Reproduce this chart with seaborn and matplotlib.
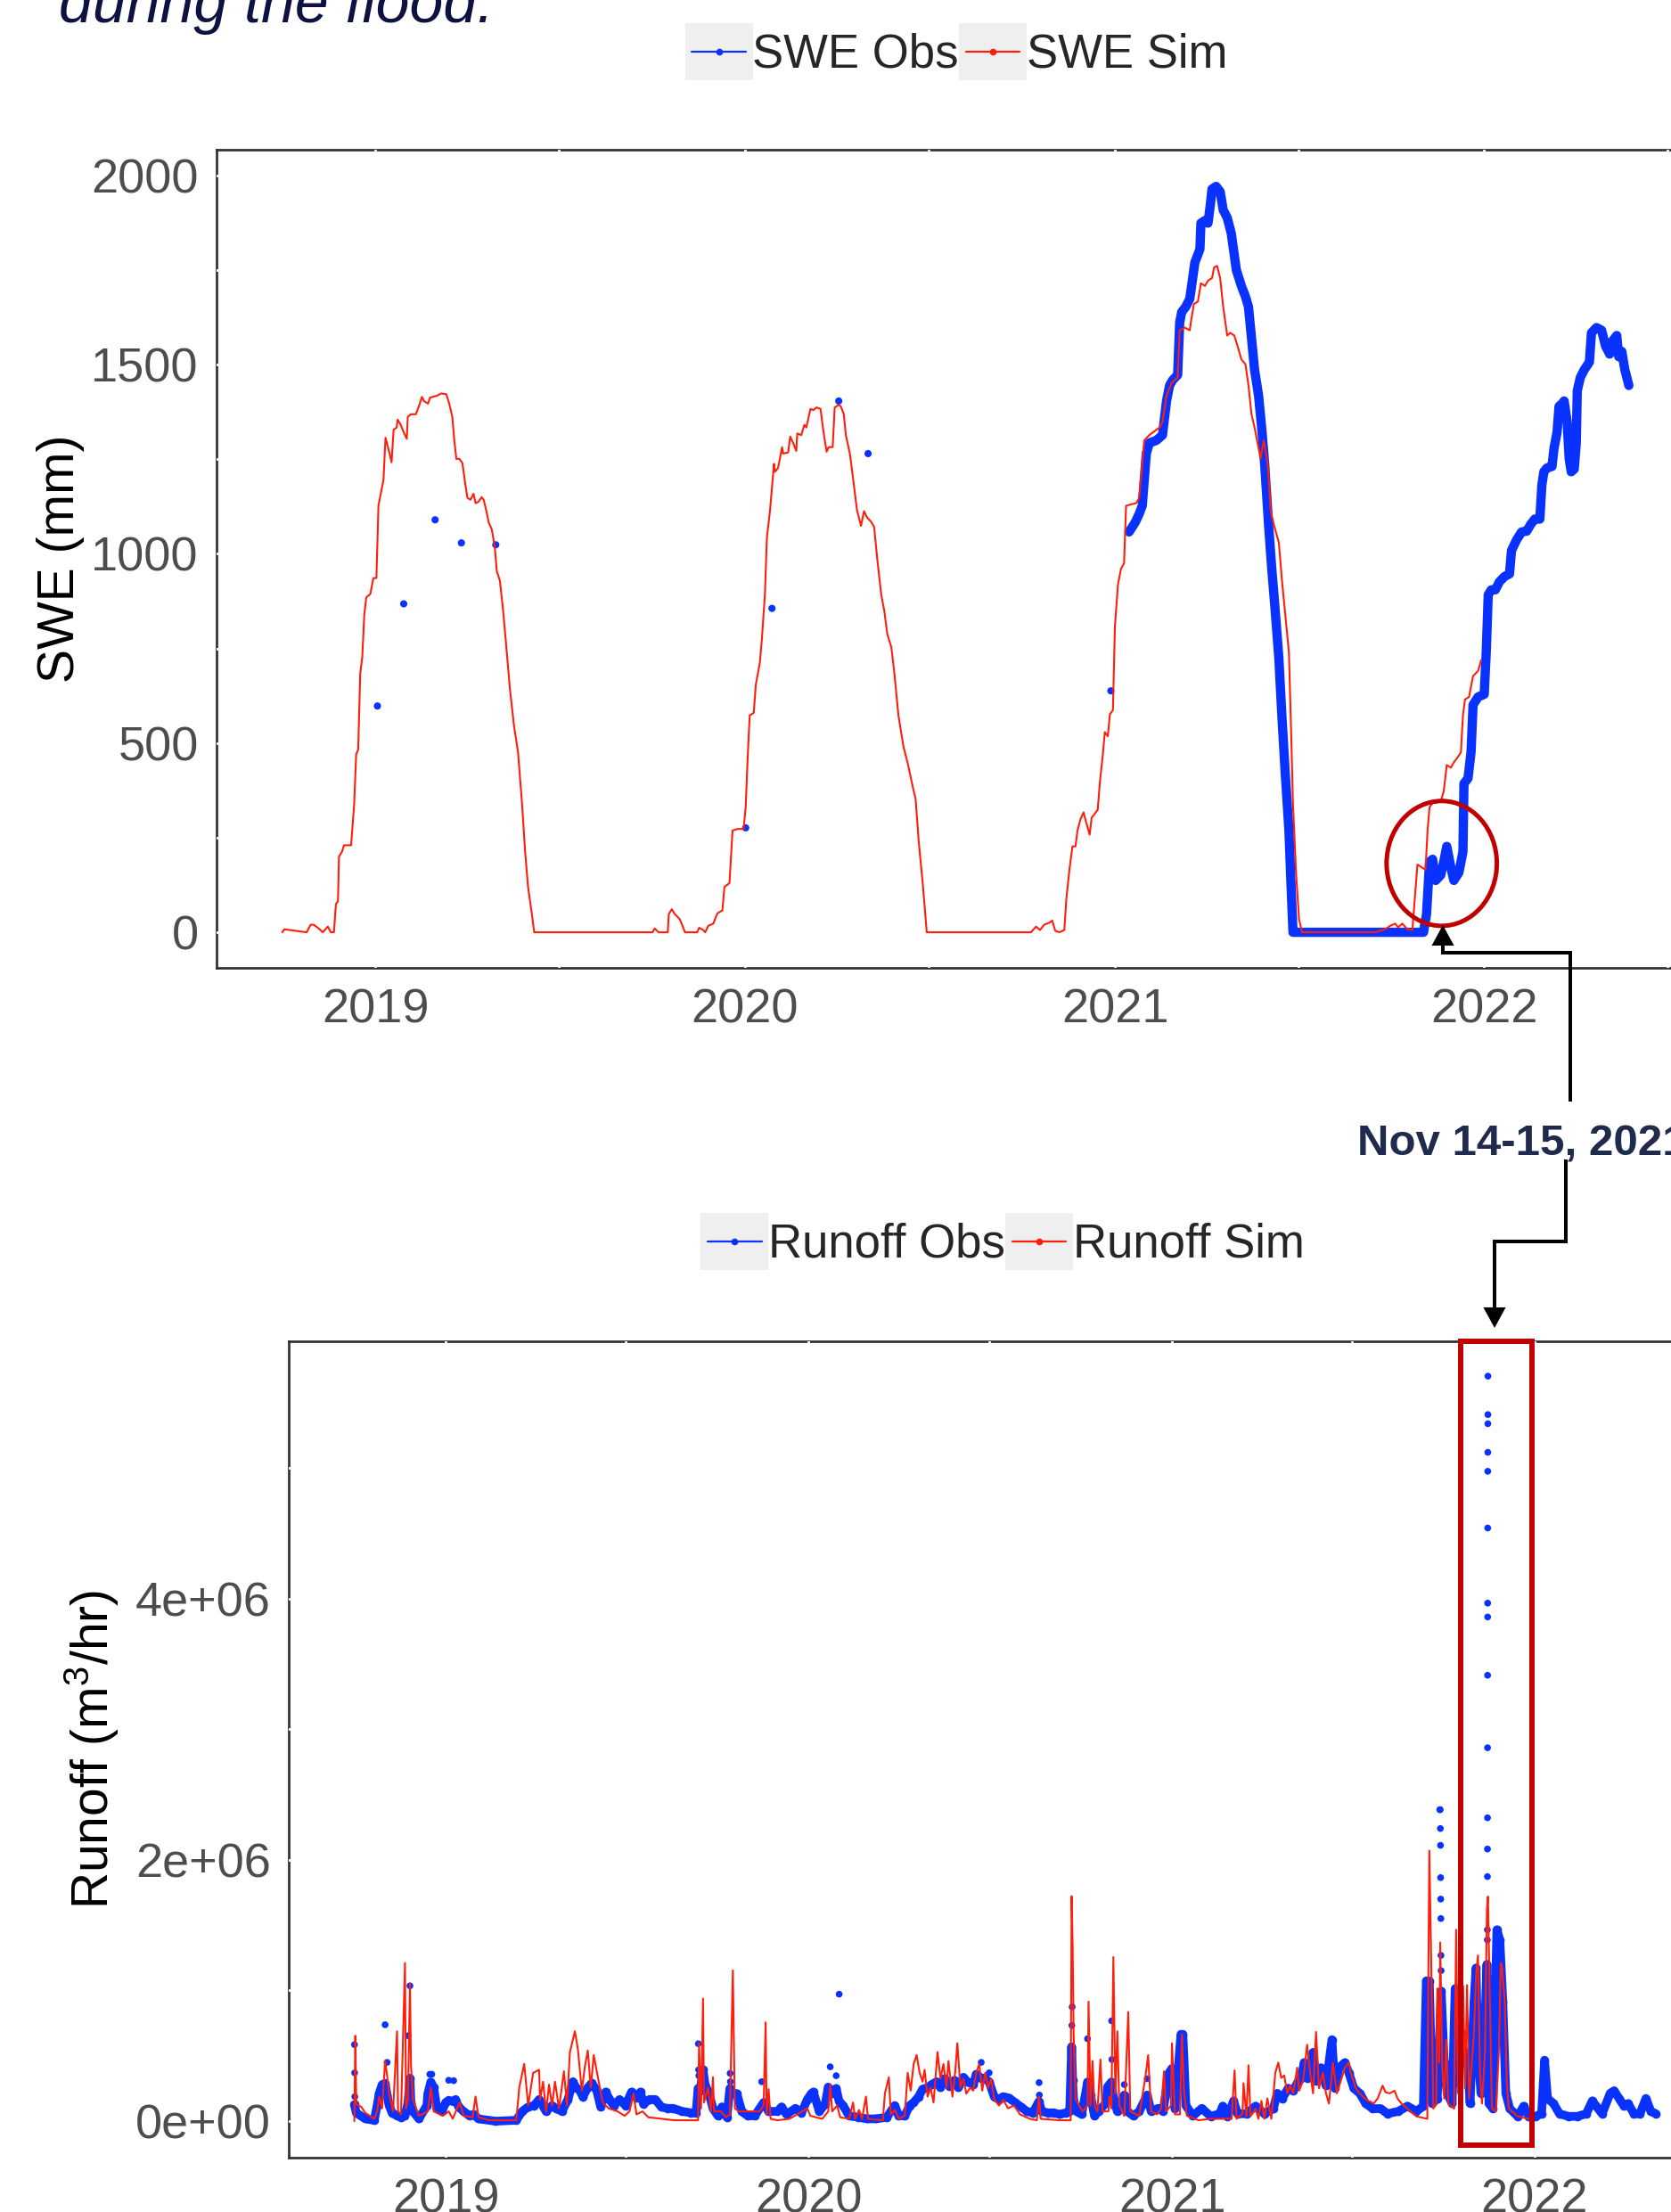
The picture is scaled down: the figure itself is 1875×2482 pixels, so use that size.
import numpy as np
import pandas as pd
import seaborn as sns
import matplotlib.pyplot as plt
import matplotlib.dates as mdates
import matplotlib.transforms as mtransforms
from matplotlib.ticker import MultipleLocator, FixedLocator, FuncFormatter
from matplotlib.patches import Ellipse, Rectangle, FancyArrowPatch
from matplotlib.lines import Line2D
from matplotlib.legend_handler import HandlerBase
from matplotlib.path import Path

# ---- SWE (mm) ----
swe_sim = [
    ("2018-10-01", 0), ("2018-10-03", 8), ("2018-10-25", 0), ("2018-10-29", 20), ("2018-11-01", 20),
    ("2018-11-06", 10), ("2018-11-10", 0), ("2018-11-15", 15), ("2018-11-18", 0), ("2018-11-21", 0),
    ("2018-11-23", 75), ("2018-11-25", 82), ("2018-11-26", 200), ("2018-11-29", 213), ("2018-12-01", 230),
    ("2018-12-08", 230), ("2018-12-11", 338), ("2018-12-13", 470), ("2018-12-15", 483), ("2018-12-17", 684),
    ("2018-12-19", 726), ("2018-12-21", 839), ("2018-12-23", 885), ("2018-12-27", 894), ("2018-12-30", 936),
    ("2019-01-02", 936), ("2019-01-04", 1127), ("2019-01-06", 1155), ("2019-01-09", 1196), ("2019-01-11", 1307),
    ("2019-01-14", 1276), ("2019-01-17", 1242), ("2019-01-19", 1328), ("2019-01-22", 1334), ("2019-01-23", 1355),
    ("2019-01-26", 1341), ("2019-01-29", 1321), ("2019-02-01", 1304), ("2019-02-02", 1362), ("2019-02-05", 1369),
    ("2019-02-10", 1369), ("2019-02-13", 1390), ("2019-02-16", 1415), ("2019-02-18", 1404), ("2019-02-22", 1397),
    ("2019-02-24", 1413), ("2019-03-03", 1418), ("2019-03-07", 1424), ("2019-03-12", 1422), ("2019-03-15", 1397),
    ("2019-03-18", 1362), ("2019-03-20", 1300), ("2019-03-22", 1251), ("2019-03-25", 1251), ("2019-03-28", 1240),
    ("2019-03-31", 1182), ("2019-04-02", 1148), ("2019-04-05", 1143), ("2019-04-08", 1159), ("2019-04-10", 1134),
    ("2019-04-13", 1138), ("2019-04-16", 1150), ("2019-04-18", 1143), ("2019-04-21", 1110), ("2019-04-23", 1083),
    ("2019-04-26", 1065), ("2019-04-29", 1019), ("2019-05-01", 954), ("2019-05-04", 930), ("2019-05-07", 857),
    ("2019-05-10", 767), ("2019-05-14", 642), ("2019-05-18", 546), ("2019-05-22", 476), ("2019-05-26", 338),
    ("2019-05-29", 213), ("2019-06-01", 117), ("2019-06-04", 61), ("2019-06-07", 0), ("2019-10-02", 0),
    ("2019-10-04", 10), ("2019-10-08", 0), ("2019-10-17", 0), ("2019-10-18", 48), ("2019-10-21", 61),
    ("2019-10-24", 48), ("2019-10-27", 40), ("2019-10-29", 34), ("2019-11-03", 0), ("2019-11-15", 0),
    ("2019-11-17", 12), ("2019-11-21", 6), ("2019-11-23", 0), ("2019-11-26", 17), ("2019-12-01", 23),
    ("2019-12-05", 50), ("2019-12-10", 58), ("2019-12-12", 120), ("2019-12-17", 130), ("2019-12-20", 269),
    ("2019-12-25", 273), ("2019-12-31", 273), ("2020-01-02", 331), ("2020-01-04", 463), ("2020-01-06", 573),
    ("2020-01-10", 580), ("2020-01-12", 654), ("2020-01-16", 712), ("2020-01-18", 774), ("2020-01-21", 892),
    ("2020-01-23", 1044), ("2020-01-26", 1113), ("2020-01-30", 1238), ("2020-01-31", 1217), ("2020-02-03", 1227),
    ("2020-02-07", 1282), ("2020-02-08", 1265), ("2020-02-13", 1268), ("2020-02-15", 1310), ("2020-02-18", 1293),
    ("2020-02-21", 1272), ("2020-02-22", 1318), ("2020-02-26", 1314), ("2020-02-29", 1341), ("2020-03-02", 1334),
    ("2020-03-06", 1383), ("2020-03-09", 1380), ("2020-03-12", 1387), ("2020-03-16", 1383), ("2020-03-19", 1321),
    ("2020-03-22", 1270), ("2020-03-24", 1282), ("2020-03-28", 1282), ("2020-03-30", 1387), ("2020-04-03", 1394),
    ("2020-04-05", 1390), ("2020-04-08", 1369), ("2020-04-10", 1314), ("2020-04-14", 1265), ("2020-04-17", 1203),
    ("2020-04-21", 1116), ("2020-04-25", 1074), ("2020-04-28", 1113), ("2020-05-01", 1096), ("2020-05-05", 1085),
    ("2020-05-08", 1071), ("2020-05-11", 988), ("2020-05-15", 892), ("2020-05-18", 850), ("2020-05-21", 788),
    ("2020-05-25", 753), ("2020-05-28", 684), ("2020-06-01", 573), ("2020-06-06", 490), ("2020-06-10", 449),
    ("2020-06-15", 386), ("2020-06-18", 352), ("2020-06-21", 241), ("2020-06-25", 130), ("2020-06-29", 0),
    ("2020-10-10", 0), ("2020-10-15", 15), ("2020-10-19", 6), ("2020-10-23", 20), ("2020-10-28", 25),
    ("2020-10-31", 31), ("2020-11-03", 4), ("2020-11-07", 0), ("2020-11-12", 6), ("2020-11-14", 89),
    ("2020-11-17", 165), ("2020-11-20", 227), ("2020-11-23", 227), ("2020-11-25", 269), ("2020-11-28", 299),
    ("2020-12-01", 317), ("2020-12-03", 296), ("2020-12-07", 258), ("2020-12-09", 303), ("2020-12-12", 313),
    ("2020-12-15", 324), ("2020-12-17", 393), ("2020-12-20", 469), ("2020-12-22", 529), ("2020-12-25", 518),
    ("2020-12-27", 576), ("2020-12-30", 587), ("2021-01-01", 809), ("2021-01-04", 919), ("2021-01-07", 961),
    ("2021-01-10", 975), ("2021-01-12", 1127), ("2021-01-16", 1130), ("2021-01-22", 1134), ("2021-01-25", 1148),
    ("2021-01-30", 1300), ("2021-02-04", 1314), ("2021-02-14", 1334), ("2021-02-17", 1348), ("2021-02-21", 1418),
    ("2021-02-26", 1452), ("2021-03-04", 1466), ("2021-03-06", 1591), ("2021-03-11", 1598), ("2021-03-16", 1591),
    ("2021-03-17", 1611), ("2021-03-20", 1660), ("2021-03-24", 1667), ("2021-03-27", 1715), ("2021-03-31", 1708),
    ("2021-04-03", 1722), ("2021-04-07", 1729), ("2021-04-09", 1757), ("2021-04-12", 1761), ("2021-04-15", 1729),
    ("2021-04-18", 1653), ("2021-04-22", 1577), ("2021-04-25", 1584), ("2021-04-29", 1577), ("2021-05-03", 1542),
    ("2021-05-06", 1514), ("2021-05-10", 1501), ("2021-05-13", 1445), ("2021-05-16", 1369), ("2021-05-19", 1334),
    ("2021-05-23", 1279), ("2021-05-25", 1252), ("2021-05-28", 1300), ("2021-06-01", 1238), ("2021-06-04", 1113),
    ("2021-06-07", 1078), ("2021-06-12", 1030), ("2021-06-15", 933), ("2021-06-18", 850), ("2021-06-22", 739),
    ("2021-06-24", 546), ("2021-06-26", 338), ("2021-06-29", 158), ("2021-07-02", 34), ("2021-07-05", 0),
    ("2021-09-15", 0), ("2021-09-25", 8), ("2021-09-30", 17), ("2021-10-05", 23), ("2021-10-08", 13),
    ("2021-10-12", 23), ("2021-10-17", 8), ("2021-10-22", 6), ("2021-10-23", 40), ("2021-10-27", 179),
    ("2021-10-31", 172), ("2021-11-04", 165), ("2021-11-06", 269), ("2021-11-08", 331), ("2021-11-11", 341),
    ("2021-11-19", 345), ("2021-11-22", 373), ("2021-11-25", 442), ("2021-11-29", 435), ("2021-12-02", 449),
    ("2021-12-06", 463), ("2021-12-09", 476), ("2021-12-11", 573), ("2021-12-13", 615), ("2021-12-17", 622),
    ("2021-12-19", 649), ("2021-12-21", 677), ("2021-12-26", 691), ("2021-12-29", 719),
]

# snow-course style observations (single points)
swe_obs_pts = [
    ("2019-01-03", 598), ("2019-01-29", 868), ("2019-03-01", 1090), ("2019-03-27", 1029), ("2019-04-30", 1024),
    ("2020-01-02", 276), ("2020-01-28", 856), ("2020-04-03", 1404), ("2020-05-02", 1265), ("2020-12-28", 638),
]

# continuous sensor record from Jan 2021
swe_obs = [
    ("2021-01-15", 1058), ("2021-01-21", 1083), ("2021-01-25", 1106), ("2021-01-28", 1127), ("2021-02-01", 1265),
    ("2021-02-04", 1293), ("2021-02-11", 1300), ("2021-02-17", 1314), ("2021-02-21", 1404), ("2021-02-24", 1445),
    ("2021-02-27", 1459), ("2021-03-04", 1473), ("2021-03-06", 1611), ("2021-03-08", 1639), ("2021-03-12", 1653),
    ("2021-03-16", 1674), ("2021-03-21", 1770), ("2021-03-26", 1805), ("2021-03-27", 1874), ("2021-03-31", 1881),
    ("2021-04-03", 1874), ("2021-04-05", 1916), ("2021-04-07", 1964), ("2021-04-11", 1971), ("2021-04-15", 1957),
    ("2021-04-18", 1909), ("2021-04-22", 1888), ("2021-04-26", 1847), ("2021-05-01", 1750), ("2021-05-06", 1708),
    ("2021-05-10", 1680), ("2021-05-13", 1653), ("2021-05-16", 1570), ("2021-05-19", 1487), ("2021-05-23", 1418),
    ("2021-05-26", 1334), ("2021-05-29", 1238), ("2021-06-02", 1072), ("2021-06-05", 961), ("2021-06-08", 864),
    ("2021-06-12", 726), ("2021-06-15", 573), ("2021-06-18", 435), ("2021-06-22", 269), ("2021-06-24", 130),
    ("2021-06-26", 0), ("2021-11-02", 0), ("2021-11-05", 48), ("2021-11-08", 186), ("2021-11-11", 193),
    ("2021-11-14", 137), ("2021-11-19", 151), ("2021-11-22", 186), ("2021-11-25", 227), ("2021-11-29", 172),
    ("2021-12-02", 137), ("2021-12-07", 158), ("2021-12-11", 213), ("2021-12-12", 393), ("2021-12-16", 407),
    ("2021-12-19", 476), ("2021-12-21", 601), ("2021-12-26", 622), ("2022-01-01", 629), ("2022-01-03", 739),
    ("2022-01-05", 892), ("2022-01-08", 905), ("2022-01-12", 905), ("2022-01-16", 926), ("2022-01-21", 940),
    ("2022-01-26", 947), ("2022-01-28", 1009), ("2022-02-02", 1037), ("2022-02-07", 1058), ("2022-02-12", 1060),
    ("2022-02-16", 1078), ("2022-02-20", 1092), ("2022-02-25", 1092), ("2022-02-27", 1182), ("2022-03-01", 1217),
    ("2022-03-04", 1227), ("2022-03-09", 1231), ("2022-03-11", 1279), ("2022-03-14", 1321), ("2022-03-16", 1390),
    ("2022-03-19", 1397), ("2022-03-21", 1404), ("2022-03-24", 1348), ("2022-03-26", 1252), ("2022-03-28", 1217),
    ("2022-03-31", 1224), ("2022-04-02", 1293), ("2022-04-03", 1431), ("2022-04-06", 1466), ("2022-04-10", 1487),
    ("2022-04-15", 1507), ("2022-04-17", 1584), ("2022-04-22", 1598), ("2022-04-27", 1591), ("2022-05-01", 1549),
    ("2022-05-05", 1528), ("2022-05-08", 1563), ("2022-05-12", 1577), ("2022-05-14", 1521), ("2022-05-17", 1535),
    ("2022-05-20", 1487), ("2022-05-24", 1445),
]

# ---- Runoff (millions of m3/hr) ----
runoff_sim = [
    ("2018-10-01", 0.0), ("2018-10-02", 0.654), ("2018-10-03", 0.131), ("2018-10-08", 0.109), ("2018-10-12", 0.064),
    ("2018-10-21", 0.018), ("2018-10-24", 0.075), ("2018-10-26", 0.188), ("2018-10-29", 0.098), ("2018-11-01", 0.461),
    ("2018-11-03", 0.347), ("2018-11-05", 0.211), ("2018-11-09", 0.075), ("2018-11-13", 0.688), ("2018-11-14", 0.075),
    ("2018-11-17", 0.052), ("2018-11-21", 1.211), ("2018-11-22", 0.098), ("2018-11-24", 0.166), ("2018-11-26", 1.052),
    ("2018-11-27", 0.438), ("2018-11-29", 0.166), ("2018-12-05", 0.041), ("2018-12-14", 0.075), ("2018-12-17", 0.257),
    ("2018-12-20", 0.075), ("2018-12-29", 0.041), ("2019-01-04", 0.075), ("2019-01-08", 0.018), ("2019-01-15", 0.143),
    ("2019-01-19", 0.041), ("2019-01-28", 0.030), ("2019-01-31", 0.188), ("2019-02-03", 0.030), ("2019-02-14", 0.007),
    ("2019-03-13", 0.007), ("2019-03-16", 0.257), ("2019-03-21", 0.438), ("2019-03-25", 0.120), ("2019-03-30", 0.370),
    ("2019-04-05", 0.393), ("2019-04-06", 0.166), ("2019-04-09", 0.302), ("2019-04-12", 0.075), ("2019-04-15", 0.280),
    ("2019-04-18", 0.120), ("2019-04-21", 0.302), ("2019-04-25", 0.098), ("2019-04-30", 0.382), ("2019-05-03", 0.120),
    ("2019-05-06", 0.529), ("2019-05-11", 0.688), ("2019-05-14", 0.552), ("2019-05-18", 0.234), ("2019-05-21", 0.416),
    ("2019-05-24", 0.541), ("2019-05-27", 0.257), ("2019-05-30", 0.506), ("2019-06-04", 0.302), ("2019-06-08", 0.143),
    ("2019-06-14", 0.098), ("2019-06-23", 0.075), ("2019-06-30", 0.041), ("2019-07-05", 0.075), ("2019-07-09", 0.211),
    ("2019-07-12", 0.052), ("2019-07-18", 0.075), ("2019-07-24", 0.030), ("2019-08-19", 0.007), ("2019-09-12", 0.007),
    ("2019-09-13", 0.597), ("2019-09-15", 0.098), ("2019-09-17", 0.938), ("2019-09-18", 0.143), ("2019-09-22", 0.257),
    ("2019-09-25", 0.075), ("2019-09-27", 0.336), ("2019-09-28", 0.075), ("2019-10-05", 0.075), ("2019-10-10", 0.030),
    ("2019-10-14", 0.052), ("2019-10-17", 1.154), ("2019-10-19", 0.098), ("2019-10-23", 0.075), ("2019-10-31", 0.075),
    ("2019-11-13", 0.075), ("2019-11-17", 0.120), ("2019-11-19", 0.756), ("2019-11-20", 0.052), ("2019-11-22", 0.245),
    ("2019-11-24", 0.018), ("2019-12-01", 0.007), ("2019-12-13", 0.018), ("2019-12-31", 0.098), ("2020-01-03", 0.041),
    ("2020-01-15", 0.018), ("2020-01-21", 0.075), ("2020-01-23", 0.280), ("2020-01-25", 0.075), ("2020-01-30", 0.120),
    ("2020-02-02", 0.030), ("2020-02-11", 0.018), ("2020-02-15", 0.143), ("2020-02-17", 0.018), ("2020-02-21", 0.086),
    ("2020-02-24", 0.018), ("2020-02-28", 0.188), ("2020-03-01", 0.018), ("2020-03-16", 0.007), ("2020-03-18", 0.211),
    ("2020-03-22", 0.336), ("2020-03-24", 0.052), ("2020-03-28", 0.086), ("2020-04-01", 0.018), ("2020-04-07", 0.041),
    ("2020-04-10", 0.370), ("2020-04-13", 0.234), ("2020-04-16", 0.438), ("2020-04-19", 0.506), ("2020-04-22", 0.370),
    ("2020-04-25", 0.302), ("2020-04-27", 0.393), ("2020-04-30", 0.188), ("2020-05-03", 0.257), ("2020-05-06", 0.143),
    ("2020-05-10", 0.529), ("2020-05-13", 0.325), ("2020-05-16", 0.438), ("2020-05-19", 0.257), ("2020-05-21", 0.461),
    ("2020-05-25", 0.188), ("2020-05-28", 0.393), ("2020-05-30", 0.597), ("2020-06-02", 0.257), ("2020-06-05", 0.325),
    ("2020-06-08", 0.211), ("2020-06-12", 0.257), ("2020-06-15", 0.234), ("2020-06-18", 0.370), ("2020-06-21", 0.438),
    ("2020-06-24", 0.234), ("2020-06-27", 0.370), ("2020-06-30", 0.257), ("2020-07-03", 0.325), ("2020-07-06", 0.166),
    ("2020-07-11", 0.120), ("2020-07-15", 0.166), ("2020-07-20", 0.098), ("2020-07-26", 0.120), ("2020-08-01", 0.052),
    ("2020-08-11", 0.018), ("2020-08-18", 0.007), ("2020-08-20", 0.188), ("2020-08-22", 0.018), ("2020-09-10", 0.007),
    ("2020-09-21", 0.007), ("2020-09-22", 1.722), ("2020-09-23", 1.347), ("2020-09-24", 0.665), ("2020-09-26", 0.166),
    ("2020-10-03", 0.075), ("2020-10-08", 0.120), ("2020-10-09", 0.915), ("2020-10-11", 0.120), ("2020-10-13", 0.461),
    ("2020-10-15", 0.120), ("2020-10-18", 0.075), ("2020-10-21", 0.472), ("2020-10-23", 0.075), ("2020-10-29", 0.075),
    ("2020-10-30", 0.188), ("2020-11-01", 0.098), ("2020-11-03", 1.256), ("2020-11-05", 0.211), ("2020-11-07", 0.688),
    ("2020-11-09", 0.120), ("2020-11-14", 0.041), ("2020-11-18", 0.836), ("2020-11-20", 0.075), ("2020-11-29", 0.041),
    ("2020-12-05", 0.325), ("2020-12-08", 0.506), ("2020-12-11", 0.075), ("2020-12-17", 0.052), ("2020-12-21", 0.098),
    ("2020-12-24", 0.382), ("2020-12-26", 0.075), ("2020-12-31", 0.120), ("2021-01-01", 0.597), ("2021-01-04", 0.052),
    ("2021-01-09", 0.052), ("2021-01-11", 0.665), ("2021-01-13", 0.234), ("2021-01-16", 0.041), ("2021-01-28", 0.007),
    ("2021-02-08", 0.018), ("2021-03-02", 0.018), ("2021-03-05", 0.389), ("2021-03-07", 0.018), ("2021-03-13", 0.057),
    ("2021-03-14", 0.291), ("2021-03-17", 0.037), ("2021-03-19", 0.428), ("2021-03-21", 0.037), ("2021-03-26", 0.096),
    ("2021-03-29", 0.018), ("2021-04-01", 0.155), ("2021-04-04", 0.018), ("2021-04-07", 0.174), ("2021-04-11", 0.018),
    ("2021-04-15", 0.370), ("2021-04-18", 0.448), ("2021-04-21", 0.331), ("2021-04-24", 0.350), ("2021-04-27", 0.213),
    ("2021-04-30", 0.272), ("2021-05-03", 0.213), ("2021-05-07", 0.409), ("2021-05-09", 0.233), ("2021-05-13", 0.311),
    ("2021-05-17", 0.585), ("2021-05-20", 0.370), ("2021-05-23", 0.213), ("2021-05-26", 0.683), ("2021-05-29", 0.252),
    ("2021-06-02", 0.370), ("2021-06-05", 0.213), ("2021-06-08", 0.135), ("2021-06-12", 0.448), ("2021-06-16", 0.213),
    ("2021-06-20", 0.311), ("2021-06-24", 0.409), ("2021-06-28", 0.448), ("2021-06-30", 0.370), ("2021-07-05", 0.252),
    ("2021-07-09", 0.213), ("2021-07-14", 0.174), ("2021-07-18", 0.155), ("2021-07-23", 0.135), ("2021-07-27", 0.174),
    ("2021-08-01", 0.272), ("2021-08-04", 0.221), ("2021-08-08", 0.213), ("2021-08-13", 0.233), ("2021-08-16", 0.174),
    ("2021-08-20", 0.135), ("2021-08-26", 0.096), ("2021-09-04", 0.037), ("2021-09-15", 0.018), ("2021-09-17", 2.071),
    ("2021-09-19", 1.191), ("2021-09-21", 0.096), ("2021-09-24", 0.135), ("2021-09-25", 1.015), ("2021-09-27", 0.448),
    ("2021-09-28", 1.367), ("2021-09-30", 0.409), ("2021-10-02", 0.174), ("2021-10-04", 0.624), ("2021-10-06", 0.135),
    ("2021-10-12", 0.096), ("2021-10-14", 1.465), ("2021-10-16", 0.213), ("2021-10-19", 0.448), ("2021-10-21", 1.035),
    ("2021-10-23", 0.252), ("2021-10-25", 1.042), ("2021-10-27", 0.174), ("2021-10-29", 0.370), ("2021-11-01", 0.683),
    ("2021-11-03", 1.113), ("2021-11-05", 1.269), ("2021-11-07", 0.370), ("2021-11-09", 0.135), ("2021-11-12", 0.526),
    ("2021-11-14", 1.621), ("2021-11-15", 1.719), ("2021-11-17", 0.917), ("2021-11-19", 0.096), ("2021-11-23", 0.076),
    ("2021-11-26", 0.526), ("2021-11-28", 1.211), ("2021-11-29", 1.191), ("2021-12-02", 0.917), ("2021-12-04", 0.291),
    ("2021-12-06", 0.096), ("2021-12-15", 0.037), ("2021-12-26", 0.018), ("2021-12-31", 0.018),
]

runoff_obs = [
    ("2018-10-01", 0.127), ("2018-10-03", 0.064), ("2018-10-12", 0.018), ("2018-10-21", 0.007), ("2018-10-24", 0.120),
    ("2018-10-26", 0.211), ("2018-10-29", 0.280), ("2018-11-01", 0.290), ("2018-11-03", 0.200), ("2018-11-05", 0.120),
    ("2018-11-08", 0.064), ("2018-11-13", 0.041), ("2018-11-17", 0.030), ("2018-11-21", 0.041), ("2018-11-24", 0.140),
    ("2018-11-26", 0.329), ("2018-11-27", 0.143), ("2018-11-29", 0.075), ("2018-12-05", 0.018), ("2018-12-13", 0.120),
    ("2018-12-14", 0.211), ("2018-12-17", 0.300), ("2018-12-20", 0.257), ("2018-12-23", 0.098), ("2018-12-28", 0.075),
    ("2019-01-01", 0.143), ("2019-01-04", 0.160), ("2019-01-09", 0.150), ("2019-01-11", 0.166), ("2019-01-14", 0.109),
    ("2019-01-19", 0.075), ("2019-01-25", 0.041), ("2019-01-29", 0.052), ("2019-02-03", 0.018), ("2019-02-20", 0.000),
    ("2019-03-13", 0.007), ("2019-03-19", 0.075), ("2019-03-25", 0.109), ("2019-03-31", 0.120), ("2019-04-05", 0.166),
    ("2019-04-12", 0.075), ("2019-04-18", 0.120), ("2019-04-22", 0.098), ("2019-04-28", 0.075), ("2019-05-04", 0.166),
    ("2019-05-09", 0.302), ("2019-05-12", 0.257), ("2019-05-16", 0.234), ("2019-05-19", 0.188), ("2019-05-24", 0.257),
    ("2019-05-28", 0.291), ("2019-06-02", 0.234), ("2019-06-06", 0.109), ("2019-06-11", 0.223), ("2019-06-15", 0.166),
    ("2019-06-19", 0.120), ("2019-06-25", 0.166), ("2019-07-01", 0.120), ("2019-07-07", 0.223), ("2019-07-12", 0.177),
    ("2019-07-16", 0.223), ("2019-07-19", 0.132), ("2019-07-25", 0.166), ("2019-07-31", 0.166), ("2019-08-06", 0.109),
    ("2019-08-12", 0.098), ("2019-08-18", 0.098), ("2019-08-27", 0.075), ("2019-09-05", 0.064), ("2019-09-10", 0.064),
    ("2019-09-12", 0.250), ("2019-09-14", 0.234), ("2019-09-17", 0.393), ("2019-09-19", 0.280), ("2019-09-23", 0.211),
    ("2019-09-27", 0.098), ("2019-10-02", 0.041), ("2019-10-06", 0.109), ("2019-10-11", 0.030), ("2019-10-14", 0.250),
    ("2019-10-17", 0.211), ("2019-10-21", 0.211), ("2019-10-26", 0.075), ("2019-11-01", 0.041), ("2019-11-08", 0.041),
    ("2019-11-17", 0.143), ("2019-11-22", 0.075), ("2019-12-01", 0.075), ("2019-12-05", 0.109), ("2019-12-10", 0.052),
    ("2019-12-19", 0.098), ("2019-12-25", 0.064), ("2019-12-31", 0.166), ("2020-01-04", 0.211), ("2020-01-06", 0.223),
    ("2020-01-12", 0.075), ("2020-01-18", 0.132), ("2020-01-21", 0.261), ("2020-01-25", 0.211), ("2020-01-29", 0.250),
    ("2020-02-01", 0.150), ("2020-02-05", 0.120), ("2020-02-11", 0.041), ("2020-02-20", 0.030), ("2020-02-29", 0.018),
    ("2020-03-09", 0.018), ("2020-03-20", 0.030), ("2020-03-28", 0.120), ("2020-04-01", 0.041), ("2020-04-07", 0.041),
    ("2020-04-12", 0.120), ("2020-04-16", 0.143), ("2020-04-21", 0.188), ("2020-04-25", 0.245), ("2020-04-30", 0.257),
    ("2020-05-04", 0.280), ("2020-05-09", 0.302), ("2020-05-13", 0.257), ("2020-05-17", 0.325), ("2020-05-22", 0.268),
    ("2020-05-27", 0.313), ("2020-05-31", 0.257), ("2020-06-05", 0.336), ("2020-06-09", 0.302), ("2020-06-15", 0.280),
    ("2020-06-18", 0.359), ("2020-06-23", 0.330), ("2020-06-27", 0.325), ("2020-07-01", 0.300), ("2020-07-06", 0.188),
    ("2020-07-11", 0.166), ("2020-07-15", 0.188), ("2020-07-21", 0.177), ("2020-07-27", 0.143), ("2020-08-02", 0.109),
    ("2020-08-08", 0.075), ("2020-08-14", 0.064), ("2020-08-20", 0.150), ("2020-08-23", 0.075), ("2020-08-29", 0.064),
    ("2020-09-04", 0.064), ("2020-09-10", 0.052), ("2020-09-16", 0.064), ("2020-09-20", 0.075), ("2020-09-22", 0.570),
    ("2020-09-23", 0.313), ("2020-09-24", 0.150), ("2020-09-27", 0.075), ("2020-10-02", 0.052), ("2020-10-06", 0.211),
    ("2020-10-08", 0.300), ("2020-10-11", 0.200), ("2020-10-15", 0.041), ("2020-10-19", 0.075), ("2020-10-27", 0.143),
    ("2020-10-28", 0.261), ("2020-11-01", 0.300), ("2020-11-03", 0.184), ("2020-11-07", 0.075), ("2020-11-14", 0.200),
    ("2020-11-17", 0.075), ("2020-11-23", 0.041), ("2020-11-29", 0.075), ("2020-12-07", 0.200), ("2020-12-11", 0.075),
    ("2020-12-18", 0.098), ("2020-12-23", 0.075), ("2020-12-29", 0.370), ("2021-01-01", 0.404), ("2021-01-04", 0.098),
    ("2021-01-10", 0.665), ("2021-01-12", 0.665), ("2021-01-15", 0.120), ("2021-01-22", 0.041), ("2021-01-31", 0.098),
    ("2021-02-09", 0.037), ("2021-02-18", 0.057), ("2021-02-21", 0.115), ("2021-02-26", 0.037), ("2021-03-04", 0.155),
    ("2021-03-08", 0.057), ("2021-03-17", 0.057), ("2021-03-26", 0.115), ("2021-04-04", 0.057), ("2021-04-13", 0.096),
    ("2021-04-17", 0.213), ("2021-04-22", 0.174), ("2021-04-28", 0.252), ("2021-05-03", 0.233), ("2021-05-07", 0.291),
    ("2021-05-11", 0.331), ("2021-05-14", 0.448), ("2021-05-17", 0.331), ("2021-05-23", 0.526), ("2021-05-26", 0.311),
    ("2021-05-31", 0.409), ("2021-06-05", 0.272), ("2021-06-11", 0.624), ("2021-06-14", 0.252), ("2021-06-18", 0.409),
    ("2021-06-24", 0.448), ("2021-06-28", 0.370), ("2021-07-03", 0.252), ("2021-07-09", 0.213), ("2021-07-15", 0.135),
    ("2021-07-22", 0.096), ("2021-07-30", 0.096), ("2021-08-06", 0.057), ("2021-08-17", 0.076), ("2021-08-26", 0.115),
    ("2021-09-04", 0.076), ("2021-09-11", 0.115), ("2021-09-14", 1.074), ("2021-09-17", 1.074), ("2021-09-20", 0.135),
    ("2021-09-25", 0.174), ("2021-09-28", 0.800), ("2021-09-29", 0.995), ("2021-10-02", 0.448), ("2021-10-05", 0.213),
    ("2021-10-10", 0.135), ("2021-10-13", 1.015), ("2021-10-16", 0.291), ("2021-10-19", 0.683), ("2021-10-22", 0.448),
    ("2021-10-25", 0.526), ("2021-10-28", 0.135), ("2021-11-01", 0.917), ("2021-11-03", 1.172), ("2021-11-05", 0.526),
    ("2021-11-08", 0.213), ("2021-11-11", 0.526), ("2021-11-14", 1.200), ("2021-11-16", 0.135), ("2021-11-20", 0.096),
    ("2021-11-24", 1.465), ("2021-11-27", 1.387), ("2021-11-30", 0.917), ("2021-12-03", 0.213), ("2021-12-07", 0.096),
    ("2021-12-15", 0.037), ("2021-12-21", 0.115), ("2021-12-26", 0.037), ("2022-01-02", 0.037), ("2022-01-08", 0.057),
    ("2022-01-11", 0.467), ("2022-01-14", 0.174), ("2022-01-20", 0.135), ("2022-01-26", 0.057), ("2022-02-04", 0.037),
    ("2022-02-13", 0.037), ("2022-02-22", 0.057), ("2022-02-28", 0.155), ("2022-03-04", 0.115), ("2022-03-10", 0.057),
    ("2022-03-18", 0.213), ("2022-03-22", 0.233), ("2022-03-27", 0.174), ("2022-04-01", 0.115), ("2022-04-05", 0.135),
    ("2022-04-11", 0.057), ("2022-04-17", 0.057), ("2022-04-23", 0.174), ("2022-04-28", 0.076), ("2022-05-03", 0.057),
]

# isolated hourly observations (storm peaks)
runoff_obs_pts = [
    ("2018-10-01 04:00", 0.586), ("2018-10-01 08:00", 0.370), ("2018-10-01 12:00", 0.188),
    ("2018-11-01 00:00", 0.738), ("2018-11-03 00:00", 0.450), ("2018-11-24 00:00", 0.654), ("2018-11-26 00:00", 1.036),
    ("2018-12-16 00:00", 0.359), ("2018-12-18 00:00", 0.359), ("2019-01-04 00:00", 0.313), ("2019-01-09 00:00", 0.310),
    ("2019-09-12 06:00", 0.593), ("2019-09-12 12:00", 0.393), ("2019-09-12 18:00", 0.348),
    ("2019-10-14 06:00", 0.366), ("2019-10-14 12:00", 0.302), ("2019-11-15 00:00", 0.302),
    ("2020-01-23 00:00", 0.416), ("2020-01-29 00:00", 0.348), ("2020-02-01 00:00", 0.972), ("2020-06-23 00:00", 0.450),
    ("2020-07-01 00:00", 0.370), ("2020-08-20 06:00", 0.295), ("2020-08-20 12:00", 0.200),
    ("2020-09-22 06:00", 0.733), ("2020-09-22 12:00", 0.875), ("2020-10-08 00:00", 0.631),
    ("2020-11-01 06:00", 0.768), ("2020-11-01 12:00", 0.472), ("2020-11-14 00:00", 0.280), ("2020-12-07 00:00", 0.325),
    ("2021-09-27 12:00", 2.384), ("2021-09-28 00:00", 2.384), ("2021-09-28 03:00", 2.240),
    ("2021-09-28 06:00", 2.111), ("2021-09-28 09:00", 1.864), ("2021-09-28 12:00", 1.700),
    ("2021-09-28 15:00", 1.551), ("2021-09-28 18:00", 1.269), ("2021-09-28 21:00", 1.152),
    ("2021-11-14 10:00", 1.387), ("2021-11-14 11:00", 1.465), ("2021-11-14 12:00", 1.872),
    ("2021-11-14 13:00", 2.083), ("2021-11-14 14:00", 2.322), ("2021-11-14 15:00", 2.858),
    ("2021-11-14 16:00", 3.413), ("2021-11-14 17:00", 3.859), ("2021-11-14 18:00", 3.965),
    ("2021-11-14 19:00", 4.540), ("2021-11-14 20:00", 4.974), ("2021-11-14 21:00", 5.119),
    ("2021-11-14 22:00", 5.338), ("2021-11-14 23:00", 5.408), ("2021-11-15 00:00", 5.702),
]

year_ticks = ["2019-01-01", "2020-01-01", "2021-01-01", "2022-01-01"]
swe_ticks = [0, 500, 1000, 1500, 2000]
runoff_ticks = [0, 2e6, 4e6]


def to_df(rows, scale=1.0):
    df = pd.DataFrame(rows, columns=["date", "value"])
    df["date"] = pd.to_datetime(df["date"], format="ISO8601")
    df["value"] = df["value"] * scale
    return df


BLUE = "#0A32FF"
RED = "#FF1E0A"
DARKRED = "#C00000"
GREY = "#333333"

sns.set_theme(style="white")
plt.rcParams["font.family"] = ["Liberation Sans", "DejaVu Sans"]
plt.rcParams["mathtext.fontset"] = "custom"
plt.rcParams["mathtext.rm"] = "Liberation Sans"
plt.rcParams["mathtext.it"] = "Liberation Sans:italic"
plt.rcParams["axes.edgecolor"] = GREY
plt.rcParams["axes.linewidth"] = 2.0

W, H = 1875, 2482
fig = plt.figure(figsize=(W / 100, H / 100), dpi=100)


def box(left, top, right, bottom):
    return [left / W, 1 - bottom / H, (right - left) / W, (bottom - top) / H]


ax1 = fig.add_axes(box(243, 168, 1914, 1086))
ax2 = fig.add_axes(box(324, 1505, 1965, 2421))

# ---------------- SWE panel ----------------
d = to_df(swe_obs)
sns.lineplot(data=d, x="date", y="value", ax=ax1, color=BLUE, lw=7.5, estimator=None, sort=False,
             solid_joinstyle="round", solid_capstyle="round")
d = to_df(swe_obs_pts)
sns.scatterplot(data=d, x="date", y="value", ax=ax1, color=BLUE, s=34, edgecolor="none")
d = to_df(swe_sim)
sns.lineplot(data=d, x="date", y="value", ax=ax1, color=RED, lw=1.5, estimator=None, sort=False)

ax1.set_xlim(pd.Timestamp("2018-07-28"), pd.Timestamp("2018-07-28") + pd.Timedelta(days=1472))
ax1.set_ylim(-94, 2068)
ax1.yaxis.set_major_locator(FixedLocator(swe_ticks))
ax1.yaxis.set_minor_locator(MultipleLocator(250))
ax1.set_ylabel("SWE (mm)", fontsize=41, color="black")
ax1.yaxis.set_label_coords(-0.0886, 0.5)

# ---------------- Runoff panel ----------------
d = to_df(runoff_obs, 1e6)
sns.lineplot(data=d, x="date", y="value", ax=ax2, color=BLUE, lw=7, estimator=None, sort=False,
             marker="o", markersize=7, markeredgewidth=0, solid_joinstyle="round")
d = to_df(runoff_obs_pts, 1e6)
sns.scatterplot(data=d, x="date", y="value", ax=ax2, color=BLUE, s=30, edgecolor="none")
d = to_df(runoff_sim, 1e6)
sns.lineplot(data=d, x="date", y="value", ax=ax2, color=RED, lw=1.5, estimator=None, sort=False)

ax2.set_xlim(pd.Timestamp("2018-07-27"), pd.Timestamp("2018-07-27") + pd.Timedelta(days=1472))
ax2.set_ylim(-0.279e6, 5.969e6)
ax2.yaxis.set_major_locator(FixedLocator(runoff_ticks))
ax2.yaxis.set_minor_locator(MultipleLocator(1e6))
ax2.yaxis.set_major_formatter(FuncFormatter(lambda v, p: "{:.0e}".format(v)))
ax2.set_ylabel(r"Runoff (m$^{3}$/hr)", fontsize=41, color="black")
ax2.yaxis.set_label_coords(-0.1143, 0.5)

for ax in (ax1, ax2):
    ax.set_xlabel("")
    ax.xaxis.set_major_locator(FixedLocator(mdates.date2num(pd.to_datetime(year_ticks))))
    ax.xaxis.set_major_formatter(mdates.DateFormatter("%Y"))
    ax.xaxis.set_minor_locator(mdates.MonthLocator(bymonth=7))
    ax.tick_params(which="major", length=8.5, width=1.8, color=GREY, labelcolor="#4D4D4D",
                   labelsize=39, direction="out")
    ax.tick_params(axis="x", which="major", pad=8)
    ax.tick_params(axis="y", which="major", pad=6)
    ax.tick_params(which="minor", length=0)
    ax.grid(True, which="both", color="white", lw=2)
    ax.set_axisbelow(True)
    for s in ax.spines.values():
        s.set_visible(True)
        s.set_zorder(0.3)
        s.set_color(GREY)
        s.set_linewidth(2.0)
    if ax.get_legend() is not None:
        ax.get_legend().remove()


# ---------------- legends ----------------
class KeyHandler(HandlerBase):
    def create_artists(self, legend, orig_handle, xdescent, ydescent, width, height, fontsize, trans):
        x0, y0 = -xdescent, -ydescent
        bg = Rectangle((x0, y0), width, height, facecolor="#EFEFEF", edgecolor="none", transform=trans)
        ym = y0 + height / 2
        ln = Line2D([x0 + width * 0.1, x0 + width * 0.9], [ym, ym], color=orig_handle.get_color(),
                    lw=1.6, transform=trans)
        dot = Line2D([x0 + width / 2], [ym], marker="o", ms=4.5, color=orig_handle.get_color(),
                     lw=0, transform=trans)
        return [bg, ln, dot]


def add_legend(labels, cx, cy):
    handles = [Line2D([], [], color=BLUE), Line2D([], [], color=RED)]
    fig.legend(handles, labels, loc="center", bbox_to_anchor=(cx / W, 1 - cy / H), ncol=2,
               frameon=False, fontsize=38, handlelength=1.44, handleheight=1.46, handletextpad=0.0,
               columnspacing=0.0, borderpad=0, handler_map={Line2D: KeyHandler()})


add_legend(["SWE Obs", "SWE Sim"], 1073, 58)
add_legend(["Runoff Obs", "Runoff Sim"], 1125, 1393)

# ---------------- annotations ----------------
ell = Ellipse((mdates.date2num(pd.Timestamp("2021-11-20")), 182), width=109, height=330,
              fill=False, edgecolor=DARKRED, lw=3.6, zorder=6, clip_on=False)
ax1.add_patch(ell)

trans = mtransforms.blended_transform_factory(ax2.transData, ax2.transAxes)
x_left = mdates.date2num(pd.Timestamp("2021-10-19"))
x_right = mdates.date2num(pd.Timestamp("2021-12-29 12:00"))
rect = Rectangle((x_left, 0.0153), x_right - x_left, 0.9847, transform=trans, fill=False,
                 edgecolor=DARKRED, lw=4.3, zorder=6, clip_on=False)
ax2.add_patch(rect)


def fpt(x, y):
    return (x / W, 1 - y / H)


for pts in ([(1762, 1236), (1762, 1069), (1619, 1069), (1619, 1038)],
            [(1757, 1301), (1757, 1393), (1677, 1393), (1677, 1490)]):
    path = Path([fpt(*p) for p in pts])
    arr = FancyArrowPatch(path=path, arrowstyle="-|>,head_length=0.55,head_width=0.3",
                          mutation_scale=22, lw=2.9, color="black", transform=fig.transFigure,
                          joinstyle="miter", capstyle="butt")
    fig.add_artist(arr)

fig.text(1523 / W, 1 - 1296 / H, "Nov 14-15, 2021", fontsize=35.5, fontweight="bold",
         color="#1F2A4D", ha="left", va="baseline")
fig.text(66 / W, 1 - 25 / H, "during the flood.", fontsize=49, style="italic",
         color="#0D1240", ha="left", va="baseline")

fig.savefig("out.png", dpi=100)
